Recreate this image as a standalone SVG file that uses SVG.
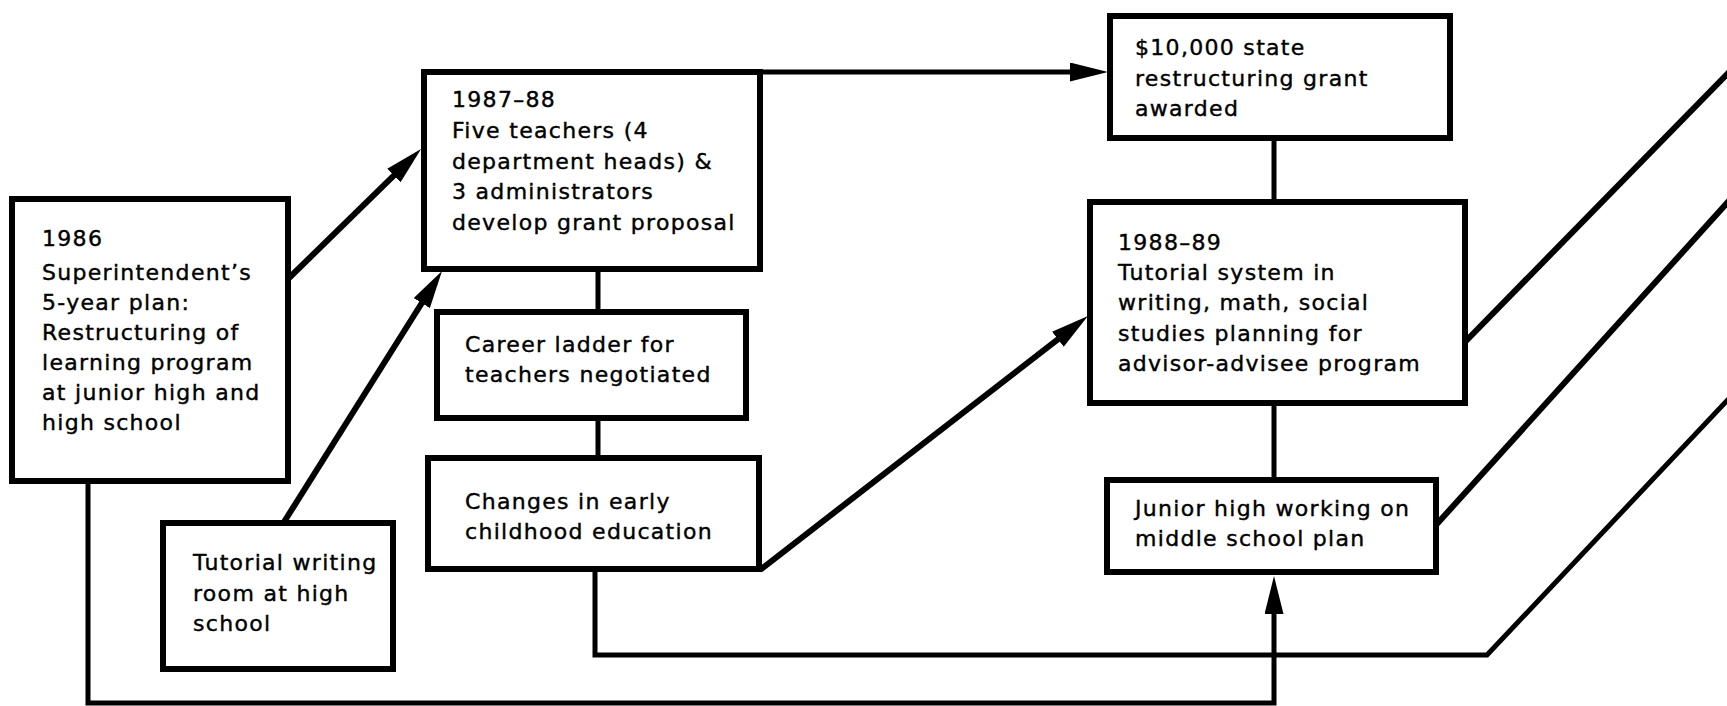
<svg xmlns="http://www.w3.org/2000/svg" width="1727" height="706" viewBox="0 0 1727 706">
<style>
.box{fill:#fff;stroke:#000;stroke-width:6}
.ln{fill:none;stroke:#000;stroke-width:5;stroke-linejoin:miter}
.th{stroke-width:6}
text{font-family:"DejaVu Sans",sans-serif;font-size:22px;letter-spacing:1.3px;fill:#000;stroke:#000;stroke-width:0.4}
</style>
<defs>
<marker id="ah" markerUnits="userSpaceOnUse" viewBox="0 0 38 19" refX="22" refY="9.5" markerWidth="38" markerHeight="19" orient="auto">
<path d="M0,0 L38,9.5 L0,19 z" fill="#000"/>
</marker>
</defs>
<rect width="1727" height="706" fill="#fff"/>
<g id="connectors">
<path class="ln th" d="M289,278 L409.6,160.2" marker-end="url(#ah)"/>
<path class="ln th" d="M284,522 L433.5,284.5" marker-end="url(#ah)"/>
<path class="ln" d="M758,72 H1092" marker-end="url(#ah)"/>
<path class="ln" d="M1274,138 V202"/>
<path class="ln" d="M1274,403 V480"/>
<path class="ln" d="M598,269 V312"/>
<path class="ln" d="M598,418 V458"/>
<path class="ln th" d="M760,570 L1075.3,325.8" marker-end="url(#ah)"/>
<path class="ln" d="M595,569 V655 H1487 L1737,390"/>
<path class="ln" d="M88,481 V703 H1274 V592" marker-end="url(#ah)"/>
<path class="ln th" d="M1465,342 L1737,64"/>
<path class="ln th" d="M1436,525 L1737,192"/>
</g>
<g id="n1986">
<rect class="box" x="12" y="199" width="276" height="282"/>
<text x="42" y="246">1986</text>
<text x="42" y="280">Superintendent’s</text>
<text x="42" y="310">5-year plan:</text>
<text x="42" y="340">Restructuring of</text>
<text x="42" y="370">learning program</text>
<text x="42" y="400">at junior high and</text>
<text x="42" y="430">high school</text>
</g>
<g id="n1987">
<rect class="box" x="424" y="72" width="336" height="197"/>
<text x="452" y="107">1987–88</text>
<text x="452" y="138">Five teachers (4</text>
<text x="452" y="169">department heads) &amp;</text>
<text x="452" y="199">3 administrators</text>
<text x="452" y="230">develop grant proposal</text>
</g>
<g id="ngrant">
<rect class="box" x="1110" y="16" width="340" height="122"/>
<text x="1135" y="55">$10,000 state</text>
<text x="1135" y="86">restructuring grant</text>
<text x="1135" y="116">awarded</text>
</g>
<g id="ncareer">
<rect class="box" x="437" y="312" width="309" height="106"/>
<text x="465" y="352">Career ladder for</text>
<text x="465" y="382">teachers negotiated</text>
</g>
<g id="nchanges">
<rect class="box" x="428" y="458" width="331" height="111"/>
<text x="465" y="509">Changes in early</text>
<text x="465" y="539">childhood education</text>
</g>
<g id="ntutorial">
<rect class="box" x="163" y="523" width="230" height="146"/>
<text x="193" y="570">Tutorial writing</text>
<text x="193" y="601">room at high</text>
<text x="193" y="631">school</text>
</g>
<g id="n1988">
<rect class="box" x="1090" y="202" width="375" height="201"/>
<text x="1118" y="250">1988–89</text>
<text x="1118" y="280">Tutorial system in</text>
<text x="1118" y="310">writing, math, social</text>
<text x="1118" y="341">studies planning for</text>
<text x="1118" y="371">advisor-advisee program</text>
</g>
<g id="njunior">
<rect class="box" x="1107" y="480" width="329" height="92"/>
<text x="1135" y="516">Junior high working on</text>
<text x="1135" y="546">middle school plan</text>
</g>
</svg>
